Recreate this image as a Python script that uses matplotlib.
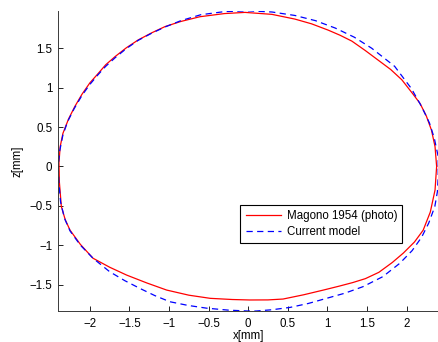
import matplotlib
matplotlib.use("Agg")
import matplotlib.pyplot as plt

# Drop outline from the photograph (Magono 1954), traced counter-clockwise
photo_x = [2.38, 2.36, 2.315, 2.25, 2.17, 2.08, 1.94, 1.80, 1.64, 1.48, 1.31, 1.16, 1.01,
           0.80, 0.59, 0.30, -0.04, -0.30, -0.61, -0.85, -1.05, -1.22, -1.39, -1.54, -1.68,
           -1.80, -1.89, -2.00, -2.10, -2.19, -2.27, -2.34, -2.375, -2.39, -2.385, -2.36,
           -2.31, -2.25, -2.12, -1.96, -1.75, -1.535, -1.28, -1.03, -0.75, -0.48, -0.20,
           0.02, 0.25, 0.44, 0.70, 0.95, 1.15, 1.32, 1.48, 1.65, 1.82, 1.96, 2.10, 2.21, 2.30,
           2.36, 2.38]
photo_z = [0.00, 0.25, 0.46, 0.64, 0.80, 0.92, 1.10, 1.23, 1.35, 1.47, 1.59, 1.665, 1.73,
           1.81, 1.87, 1.93, 1.955, 1.94, 1.90, 1.84, 1.775, 1.695, 1.605, 1.505, 1.395,
           1.29, 1.185, 1.06, 0.915, 0.76, 0.60, 0.42, 0.25, 0.05, -0.20, -0.51,
           -0.68, -0.81, -0.99, -1.166, -1.28, -1.38, -1.48, -1.57, -1.635, -1.675, -1.69,
           -1.696, -1.695, -1.684, -1.63, -1.57, -1.52, -1.475, -1.425, -1.345, -1.22, -1.10,
           -0.96, -0.81, -0.58, -0.30, 0.00]

# Outline computed by the current model
model_x = [2.40, 2.40, 2.35, 2.29, 2.19, 2.06, 1.85, 1.56, 1.34, 1.10, 0.85, 0.59, 0.30,
           0.00, -0.30, -0.60, -0.85, -1.05, -1.22, -1.39, -1.54, -1.68, -1.80, -1.90,
           -2.00, -2.10, -2.20, -2.28, -2.34, -2.38, -2.40, -2.39, -2.37, -2.32, -2.25,
           -2.12, -1.96, -1.75, -1.56, -1.37, -1.18, -0.99, -0.76, -0.525, -0.25, 0.00,
           0.10, 0.30, 0.53, 0.76, 0.99, 1.22, 1.45, 1.70, 1.915, 2.07, 2.19, 2.28,
           2.357, 2.39, 2.40, 2.40]
model_z = [0.00, 0.125, 0.36, 0.55, 0.76, 0.99, 1.27, 1.50, 1.64, 1.756, 1.85, 1.916, 1.96,
           1.975, 1.965, 1.925, 1.85, 1.77, 1.69, 1.60, 1.495, 1.38, 1.27, 1.16,
           1.04, 0.90, 0.73, 0.57, 0.40, 0.20, 0.00, -0.22, -0.45, -0.66, -0.82,
           -1.00, -1.166, -1.337, -1.45, -1.548, -1.64, -1.718, -1.765, -1.80, -1.825, -1.836,
           -1.836, -1.82, -1.79, -1.74, -1.675, -1.61, -1.527, -1.40, -1.23, -1.07, -0.90, -0.72,
           -0.51, -0.32, -0.13, 0.00]

x_ticks = [-2, -1.5, -1, -0.5, 0, 0.5, 1, 1.5, 2]
z_ticks = [-1.5, -1, -0.5, 0, 0.5, 1, 1.5]
x_tick_labels = ["\u22122", "\u22121.5", "\u22121", "\u22120.5", "0", "0.5", "1", "1.5", "2"]
z_tick_labels = ["\u22121.5", "\u22121", "\u22120.5", "0", "0.5", "1", "1.5"]

plt.rcParams["font.family"] = ["Liberation Sans", "DejaVu Sans"]
plt.rcParams["font.size"] = 8.3

fig = plt.figure(figsize=(4.39, 3.42), dpi=100)
ax = fig.add_axes([0.132, 0.0906, 0.868, 0.878])

ax.plot(photo_x, photo_z, color=(1, 0, 0), lw=0.9, label="Magono 1954 (photo)")
ax.plot(model_x, model_z, color=(0, 0, 1), lw=0.9, dashes=(5, 3.5), label="Current model")

ax.set_xlim(-2.403, 2.41)
ax.set_ylim(-1.836, 1.976)
ax.set_xticks(x_ticks)
ax.set_xticklabels(x_tick_labels)
ax.set_yticks(z_ticks)
ax.set_yticklabels(z_tick_labels)
ax.tick_params(direction="in", length=3.5, width=0.6, colors="black", labelsize=8.3)
ax.tick_params(axis="x", pad=5)
ax.tick_params(axis="y", pad=4)
ax.spines["top"].set_visible(False)
ax.spines["right"].set_visible(False)
ax.spines["left"].set_linewidth(0.7)
ax.spines["bottom"].set_linewidth(0.7)
ax.spines["left"].set_color("#3a3a3a")
ax.spines["bottom"].set_color("#3a3a3a")

ax.set_xlabel("x[mm]", fontsize=8.3, labelpad=0.3)
ax.set_ylabel("z[mm]", fontsize=8.3, labelpad=4)

leg = ax.legend(loc="upper left", bbox_to_anchor=(240.5 / 439, 1 - 204.5 / 342),
                bbox_transform=fig.transFigure, fancybox=False, framealpha=1,
                edgecolor="black", handlelength=3.1, borderpad=0.45, labelspacing=0.4,
                handletextpad=0.45, borderaxespad=0, fontsize=8.3)
leg.get_frame().set_linewidth(0.8)

fig.savefig("out.png", dpi=100)
